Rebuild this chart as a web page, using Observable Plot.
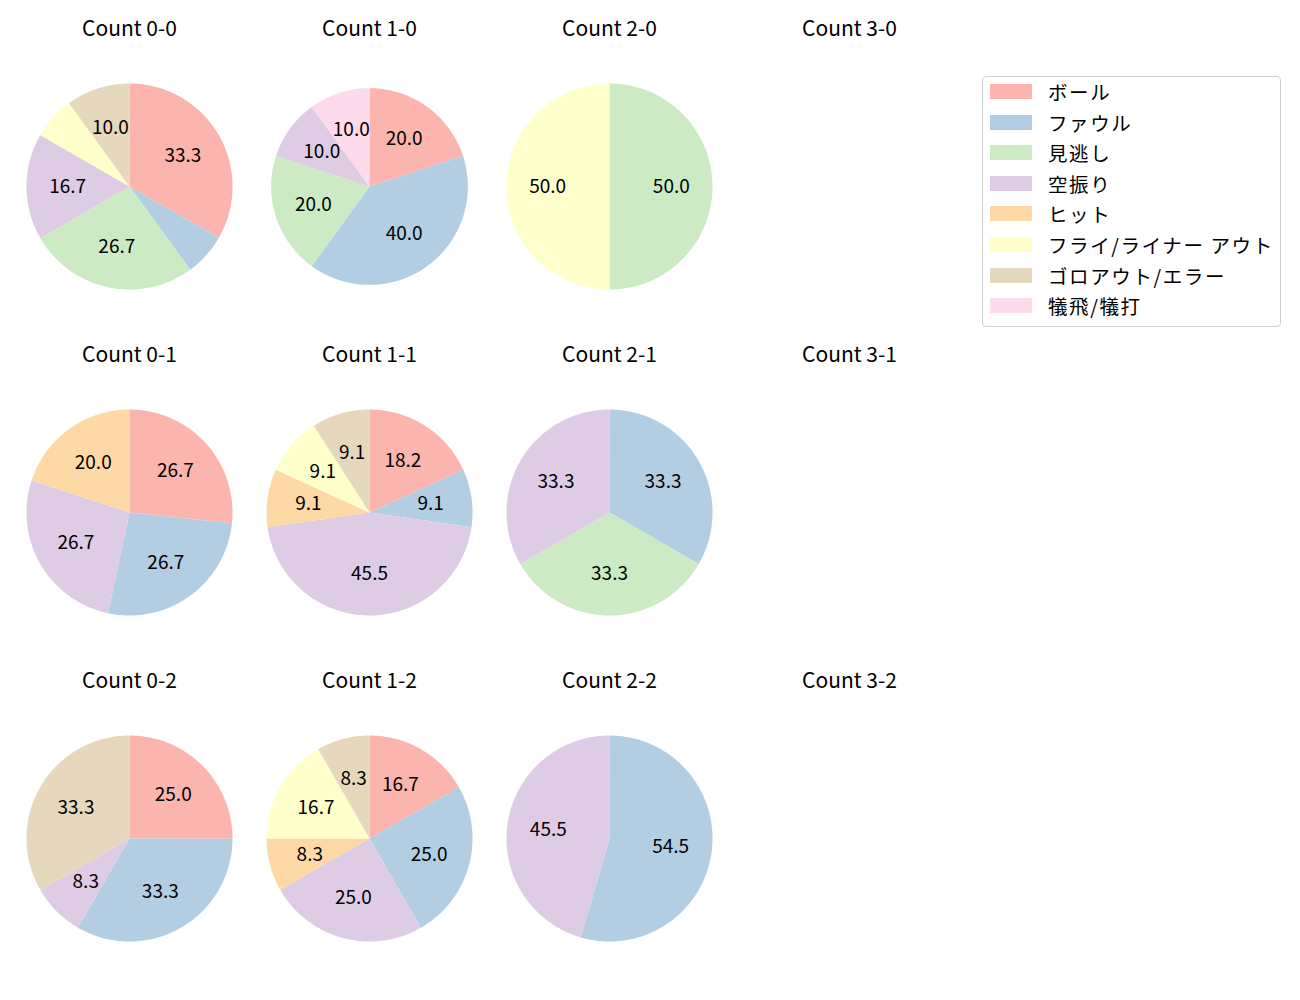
<!DOCTYPE html>
<html>
<head>
<meta charset="utf-8">
<script src="https://cdn.jsdelivr.net/npm/d3@7"></script>
<script src="https://cdn.jsdelivr.net/npm/@observablehq/plot@0.6"></script>
<style>
  body { margin: 0; background: #fff; font-family: "Noto Sans CJK JP", "Noto Sans", sans-serif; }
  #wrap { position: relative; width: 1300px; height: 1000px; }
  #legend { position: absolute; left: 982px; top: 76px; width: 297px; height: 249px;
            border: 1px solid #d0d0d0; border-radius: 4px; background: #fff; box-sizing: content-box; }
  .item { position: absolute; left: 7px; height: 20px; display: flex; align-items: center; }
  .sw { width: 42px; height: 15px; margin-right: 16px; }
  .lab { font-size: 19.5px; letter-spacing: 1.6px; color: #000; white-space: nowrap; }
</style>
</head>
<body>
<div id="wrap"><div id="chart"></div><div id="legend"></div></div>
<script>
const categories = ["ボール","ファウル","見逃し","空振り","ヒット","フライ/ライナー アウト","ゴロアウト/エラー","犠飛/犠打"];
const colors = ["#fbb4ae","#b3cde3","#ccebc5","#decbe4","#fed9a6","#ffffcc","#e5d8bd","#fddaec"];
const balls = [0,1,2,3];
const strikes = [0,1,2];
// values per count, in category order
const count00 = [33.3, 6.7, 26.7, 16.7, 0, 6.7, 10.0, 0];
const count10 = [20.0, 40.0, 20.0, 10.0, 0, 0, 0, 10.0];
const count20 = [0, 0, 50.0, 0, 0, 50.0, 0, 0];
const count30 = [];
const count01 = [26.7, 26.7, 0, 26.7, 20.0, 0, 0, 0];
const count11 = [18.2, 9.1, 0, 45.5, 9.1, 9.1, 9.1, 0];
const count21 = [0, 33.3, 33.3, 33.3, 0, 0, 0, 0];
const count31 = [];
const count02 = [25.0, 33.3, 0, 8.3, 0, 0, 33.3, 0];
const count12 = [16.7, 25.0, 0, 25.0, 8.3, 16.7, 8.3, 0];
const count22 = [0, 54.5, 0, 45.5, 0, 0, 0, 0];
const count32 = [];

const counts = [
  {b:0,s:0,v:count00},{b:1,s:0,v:count10},{b:2,s:0,v:count20},{b:3,s:0,v:count30},
  {b:0,s:1,v:count01},{b:1,s:1,v:count11},{b:2,s:1,v:count21},{b:3,s:1,v:count31},
  {b:0,s:2,v:count02},{b:1,s:2,v:count12},{b:2,s:2,v:count22},{b:3,s:2,v:count32}
];

// layout: relative pie radius per panel (the 1-0 panel is drawn slightly smaller)
const radiusFor = (b, s) => (b === 1 && s === 0) ? 0.955 : 1;

const wedgePts = [];
const labels = [];
const titles = counts.map(c => ({b:c.b, s:c.s, text:`Count ${c.b}-${c.s}`}));
const pie = d3.pie().sort(null).value(d => d.value);
for (const c of counts) {
  if (!c.v.length) continue;
  const r = radiusFor(c.b, c.s);
  const rows = c.v.map((value, i) => ({cat: categories[i], value}));
  const total = d3.sum(rows, d => d.value);
  const arcs = pie(rows);
  arcs.forEach((a, i) => {
    if (a.data.value <= 0) return;
    const id = `${c.b}-${c.s}-${i}`;
    wedgePts.push({id, cat: a.data.cat, b: c.b, s: c.s, x: 0, y: 0});
    const n = Math.max(2, Math.ceil((a.endAngle - a.startAngle) / 0.01));
    for (let k = 0; k <= n; k++) {
      const t = a.startAngle + (a.endAngle - a.startAngle) * k / n;
      wedgePts.push({id, cat: a.data.cat, b: c.b, s: c.s, x: r * Math.sin(t), y: r * Math.cos(t)});
    }
    const pct = a.data.value / total * 100;
    if (pct >= 8) {
      const m = (a.startAngle + a.endAngle) / 2;
      labels.push({b: c.b, s: c.s, x: 0.6 * r * Math.sin(m), y: 0.6 * r * Math.cos(m), text: pct.toFixed(1)});
    }
  });
}

const lim = 120 / 103;
const chart = Plot.plot({
  width: 1300, height: 1000,
  marginLeft: 9, marginRight: 331, marginTop: 65, marginBottom: 42,
  style: {fontFamily: '"Noto Sans CJK JP", "Noto Sans", sans-serif', background: "white"},
  fx: {domain: balls, padding: 0, axis: null},
  fy: {domain: strikes, paddingInner: 0.265, paddingOuter: 0, axis: null},
  x: {domain: [-lim, lim], axis: null},
  y: {domain: [-lim, lim], axis: null},
  color: {domain: categories, range: colors},
  marks: [
    Plot.line(wedgePts, {x: "x", y: "y", z: "id", fill: "cat", stroke: "none", curve: "linear-closed", fx: "b", fy: "s"}),
    Plot.text(labels, {x: "x", y: "y", text: "text", fx: "b", fy: "s", fontSize: 19, fill: "black"}),
    Plot.text(titles, {text: "text", fx: "b", fy: "s", frameAnchor: "top", lineAnchor: "middle", dy: -37, fontSize: 21, fill: "black"})
  ]
});
document.getElementById("chart").appendChild(chart);

const legend = document.getElementById("legend");
categories.forEach((c, i) => {
  const it = document.createElement("div");
  it.className = "item";
  it.style.top = (4.5 + i * 30.6) + "px";
  it.innerHTML = `<div class="sw" style="background:${colors[i]}"></div><div class="lab">${c}</div>`;
  legend.appendChild(it);
});
</script>
</body>
</html>
